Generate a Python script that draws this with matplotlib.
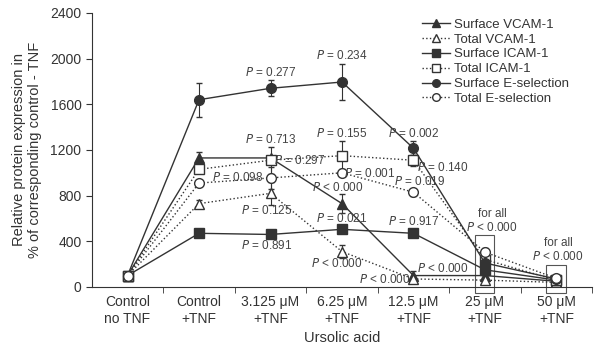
import matplotlib.pyplot as plt
from matplotlib.patches import Rectangle
from matplotlib.lines import Line2D

plt.rcParams['font.family'] = ['Liberation Sans', 'DejaVu Sans']

categories = ["Control\nno TNF", "Control\n+TNF", "3.125 \u03bcM\n+TNF", "6.25 \u03bcM\n+TNF",
              "12.5 \u03bcM\n+TNF", "25 \u03bcM\n+TNF", "50 \u03bcM\n+TNF"]

surf_vcam = [100, 1130, 1130, 730, 100, 100, 50]
surf_vcam_err = [0, 50, 0, 80, 40, 20, 10]
tot_vcam = [100, 730, 820, 310, 70, 60, 40]
tot_vcam_err = [0, 30, 100, 60, 20, 10, 5]
surf_icam = [100, 470, 460, 505, 470, 150, 60]
surf_icam_err = [0, 20, 20, 20, 20, 10, 5]
tot_icam = [100, 1030, 1110, 1150, 1110, 240, 60]
tot_icam_err = [0, 30, 120, 130, 50, 20, 10]
surf_esel = [100, 1640, 1740, 1795, 1215, 210, 70]
surf_esel_err = [0, 150, 70, 160, 60, 30, 10]
tot_esel = [100, 910, 955, 1000, 830, 305, 75]
tot_esel_err = [0, 30, 100, 30, 30, 40, 10]

# (text, x, y) in data coords
p_labels = [
    ("0.277", 2.0, 1880), ("0.234", 3.0, 2030), ("0.713", 2.0, 1290),
    ("0.297", 2.41, 1112), ("0.098", 1.54, 955), ("0.125", 1.95, 670),
    ("0.891", 1.95, 360), ("0.155", 3.0, 1340), ("0.001", 3.39, 998),
    ("0.021", 3.0, 600), ("0.002", 4.0, 1340), ("0.140", 4.41, 1042),
    ("0.019", 4.09, 928), ("0.917", 4.0, 570),
]
p_less = [(2.94, 875), (2.93, 210), (4.41, 166), (3.6, 62)]

c = '#333333'
fig = plt.figure(figsize=(6, 3.59), dpi=100)
ax = fig.add_axes([0.153, 0.2006, 0.834, 0.7634])
x = range(len(categories))

series = [
    (surf_vcam, surf_vcam_err, '-', '^', c, 'Surface VCAM-1'),
    (tot_vcam, tot_vcam_err, ':', '^', 'white', 'Total VCAM-1'),
    (surf_icam, surf_icam_err, '-', 's', c, 'Surface ICAM-1'),
    (tot_icam, tot_icam_err, ':', 's', 'white', 'Total ICAM-1'),
    (surf_esel, surf_esel_err, '-', 'o', c, 'Surface E-selection'),
    (tot_esel, tot_esel_err, ':', 'o', 'white', 'Total E-selection'),
]
handles = []
for vals, err, ls, mk, fc, lab in series:
    ax.errorbar(x, vals, yerr=err, color=c, ls=ls, lw=1.0, marker=mk, ms=7,
                mfc=fc, mec=c, mew=1.0, capsize=2.5, elinewidth=0.8)
    handles.append(Line2D([], [], color=c, ls=ls, lw=1.0, marker=mk, ms=5.5,
                          mfc=fc, mec=c, mew=1.0, label=lab))

for t, px, py in p_labels:
    ax.text(px, py, "$P$ = " + t, fontsize=8.5, color='#444444', ha='center', va='center')
for px, py in p_less:
    ax.text(px, py, "$P$ < 0.000", fontsize=8.5, color='#444444', ha='center', va='center')

for xi, ytop in [(5.1, 640), (6.02, 385)]:
    ax.text(xi, ytop, "for all", fontsize=8.5, color='#444444', ha='center', va='center')
    ax.text(xi, ytop - 122, "$P$ < 0.000", fontsize=8.5, color='#444444', ha='center', va='center')

ax.add_patch(Rectangle((4.86, -50), 0.27, 505, fill=False, ec='#555555', lw=0.8, clip_on=False))
ax.add_patch(Rectangle((5.86, -50), 0.28, 240, fill=False, ec='#555555', lw=0.8, clip_on=False))

ax.set_xlim(-0.5, 6.5)
ax.set_ylim(0, 2400)
ax.set_yticks([0, 400, 800, 1200, 1600, 2000, 2400])
ax.set_xticks(list(x))
ax.set_xticklabels(categories, fontsize=10, color='#333333')
ax.set_xticks([i + 0.5 for i in range(7)], minor=True)
ax.tick_params(axis='x', which='major', length=0, pad=6)
ax.tick_params(axis='x', which='minor', length=4, direction='out', color=c)
ax.tick_params(axis='y', labelsize=10, labelcolor='#333333', length=4, color=c)
for s in ['top', 'right']:
    ax.spines[s].set_visible(False)
for s in ['left', 'bottom']:
    ax.spines[s].set_color(c)

ax.set_ylabel("Relative protein expression in\n% of corresponding control - TNF",
              fontsize=10.5, color='#333333', labelpad=6)
ax.set_xlabel("Ursolic acid", fontsize=10.5, color='#333333', labelpad=4)

ax.legend(handles=handles, loc='upper left', bbox_to_anchor=(0.66, 0.98), frameon=False,
          fontsize=9.5, handlelength=2.1, labelspacing=0.2, handletextpad=0.35,
          borderpad=0, borderaxespad=0, labelcolor='#333333')

fig.savefig('out.png', dpi=100)
